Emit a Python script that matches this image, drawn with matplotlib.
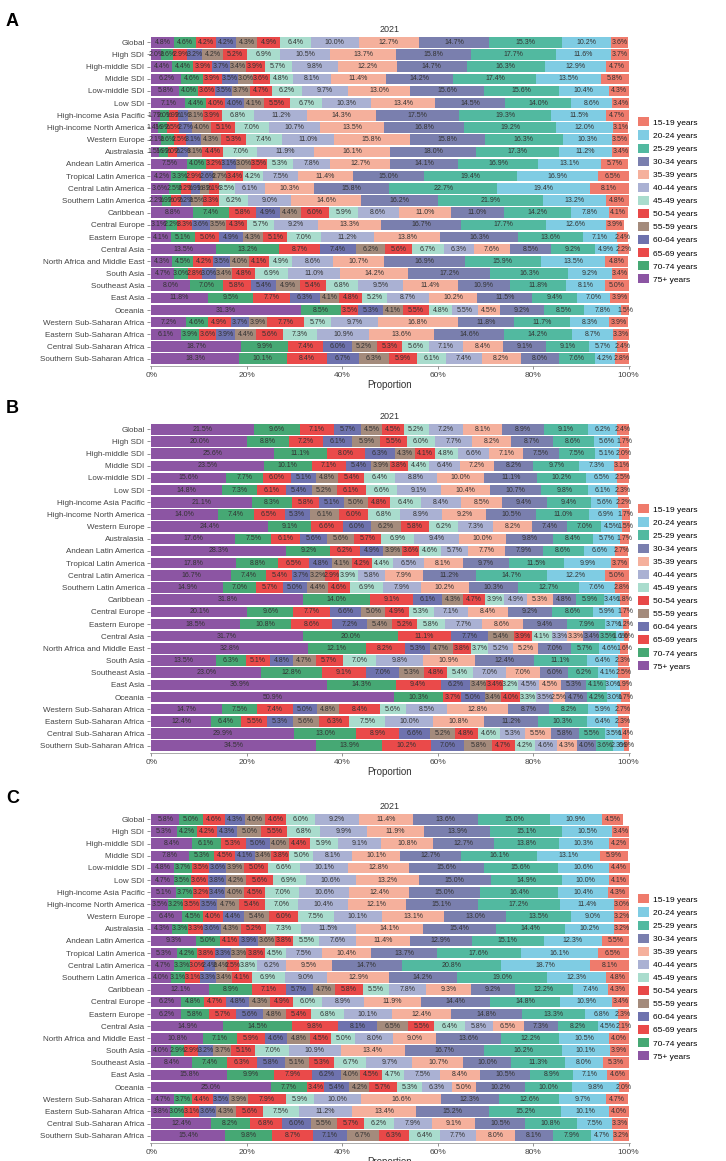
import matplotlib

matplotlib.use("Agg")

import matplotlib.pyplot as plt
from matplotlib.patches import Patch
import numpy as np

plt.rcParams["font.family"] = ["Liberation Sans", "DejaVu Sans"]

regions = [
    "Global", "High SDI", "High-middle SDI", "Middle SDI", "Low-middle SDI", "Low SDI",
    "High-income Asia Pacific", "High-income North America", "Western Europe", "Australasia",
    "Andean Latin America", "Tropical Latin America", "Central Latin America",
    "Southern Latin America", "Caribbean", "Central Europe", "Eastern Europe", "Central Asia",
    "North Africa and Middle East", "South Asia", "Southeast Asia", "East Asia", "Oceania",
    "Western Sub-Saharan Africa", "Eastern Sub-Saharan Africa", "Central Sub-Saharan Africa",
    "Southern Sub-Saharan Africa",
]

# stacking order, left to right
age_groups = [
    "75+ years", "70-74 years", "65-69 years", "60-64 years", "55-59 years", "50-54 years",
    "45-49 years", "40-44 years", "35-39 years", "30-34 years", "25-29 years", "20-24 years",
    "15-19 years",
]

age_colors = [
    "#8C55A3", "#46A874", "#EA4A4A", "#6E72AE", "#A48B7C", "#E84848",
    "#A9DCCD", "#AAB1D3", "#F5B09C", "#7A7FAE", "#52B9A0", "#7FCCE3", "#EF7B6C",
]

# percent, one row per region, columns follow age_groups
panel_a = [
    [4.8, 4.6, 4.2, 4.2, 4.3, 4.9, 6.4, 10.0, 12.7, 14.7, 15.3, 10.2, 3.6],
    [2.0, 2.6, 2.9, 3.2, 4.2, 5.2, 6.9, 10.5, 13.7, 15.8, 17.7, 11.6, 3.7],
    [4.4, 4.4, 3.9, 3.7, 3.4, 3.9, 5.7, 9.8, 12.2, 14.7, 16.3, 12.9, 4.7],
    [6.2, 4.6, 3.9, 3.5, 3.0, 3.6, 4.8, 8.1, 11.4, 14.2, 17.4, 13.5, 5.8],
    [5.8, 4.0, 3.6, 3.5, 3.7, 4.7, 6.2, 9.7, 13.0, 15.6, 15.6, 10.4, 4.3],
    [7.1, 4.4, 4.0, 4.0, 4.1, 5.5, 6.7, 10.3, 13.4, 14.5, 14.0, 8.6, 3.4],
    [1.7, 2.0, 1.9, 2.1, 3.1, 3.9, 6.8, 11.2, 14.3, 17.5, 19.3, 11.5, 4.7],
    [1.4, 1.9, 2.5, 2.7, 4.0, 5.1, 7.0, 10.7, 13.5, 16.8, 19.2, 12.0, 3.1],
    [2.1, 2.6, 2.5, 3.1, 4.3, 5.3, 7.4, 11.0, 15.8, 15.8, 16.3, 10.3, 3.5],
    [1.5, 1.9, 2.0, 2.2, 3.1, 4.4, 7.0, 11.9, 16.1, 18.0, 17.3, 11.2, 3.4],
    [7.5, 4.0, 3.2, 3.1, 3.0, 3.5, 5.3, 7.8, 12.7, 14.1, 16.9, 13.1, 5.7],
    [4.2, 3.3, 2.9, 2.6, 2.7, 3.4, 4.2, 7.5, 11.4, 15.0, 19.4, 16.9, 6.5],
    [3.6, 2.5, 2.2, 1.9, 1.8, 2.1, 3.5, 6.1, 10.3, 15.8, 22.7, 19.4, 8.1],
    [2.2, 1.9, 2.0, 2.2, 2.5, 3.3, 6.2, 9.0, 14.6, 16.2, 21.9, 13.2, 4.8],
    [8.8, 7.4, 5.8, 4.9, 4.4, 6.0, 5.9, 8.6, 11.0, 11.0, 14.2, 7.8, 4.1],
    [3.1, 2.2, 3.3, 3.6, 3.5, 4.3, 5.7, 9.2, 13.3, 16.7, 17.7, 12.6, 3.9],
    [4.1, 5.1, 5.0, 4.9, 4.3, 5.1, 7.0, 11.2, 13.8, 16.3, 13.6, 7.1, 2.4],
    [13.5, 13.2, 8.7, 7.4, 6.2, 5.6, 6.7, 6.3, 7.6, 8.5, 9.2, 4.9, 2.2],
    [4.3, 4.5, 4.2, 3.5, 4.0, 4.1, 4.9, 8.6, 10.7, 16.9, 15.9, 13.5, 4.8],
    [4.7, 3.0, 2.8, 3.0, 3.4, 4.8, 6.9, 11.0, 14.2, 17.2, 16.3, 9.2, 3.4],
    [8.0, 7.0, 5.8, 5.4, 4.9, 5.4, 6.8, 9.5, 11.4, 10.9, 11.8, 8.1, 5.0],
    [11.8, 9.5, 7.7, 6.3, 4.1, 4.8, 5.2, 8.7, 10.2, 11.5, 9.4, 7.0, 3.9],
    [31.3, 8.5, 3.5, 5.3, 4.1, 5.5, 4.8, 5.5, 4.5, 9.2, 8.5, 7.8, 1.5],
    [7.2, 4.6, 4.9, 3.7, 3.9, 7.7, 5.7, 9.7, 16.8, 11.8, 11.7, 8.3, 3.9],
    [6.1, 3.9, 3.6, 3.9, 4.4, 5.6, 7.3, 10.9, 13.6, 14.6, 14.2, 8.7, 3.3],
    [18.7, 9.9, 7.4, 6.0, 5.2, 5.3, 5.6, 7.1, 8.4, 9.1, 9.1, 5.7, 2.4],
    [18.3, 10.1, 8.4, 6.7, 6.3, 5.9, 6.1, 7.4, 8.2, 8.0, 7.6, 4.2, 2.8],
]

panel_b = [
    [21.5, 9.6, 7.1, 5.7, 4.5, 4.5, 5.2, 7.2, 8.1, 8.9, 9.1, 6.2, 2.4],
    [20.0, 8.8, 7.2, 6.1, 5.9, 5.5, 6.0, 7.7, 8.2, 8.7, 8.6, 5.6, 1.7],
    [25.6, 11.1, 8.0, 6.3, 4.3, 4.1, 4.8, 6.6, 7.1, 7.5, 7.5, 5.1, 2.0],
    [23.5, 10.1, 7.1, 5.4, 3.9, 3.8, 4.4, 6.4, 7.2, 8.2, 9.7, 7.3, 3.1],
    [15.6, 7.7, 6.0, 5.1, 4.8, 5.4, 6.4, 8.8, 10.0, 11.1, 10.2, 6.5, 2.5],
    [14.8, 7.3, 6.1, 5.4, 5.2, 6.1, 6.6, 9.1, 10.4, 10.7, 9.8, 6.1, 2.3],
    [21.1, 8.3, 5.8, 5.1, 5.0, 4.8, 6.4, 8.4, 8.5, 9.4, 9.4, 5.6, 2.2],
    [14.0, 7.4, 6.5, 5.3, 6.1, 6.0, 6.8, 8.9, 9.2, 10.5, 11.0, 6.9, 1.7],
    [24.4, 9.1, 6.6, 6.0, 6.2, 5.8, 6.2, 7.3, 8.2, 7.4, 7.0, 4.5, 1.5],
    [17.6, 7.5, 6.1, 5.6, 5.6, 5.7, 6.9, 9.4, 10.0, 9.8, 8.4, 5.7, 1.7],
    [28.3, 9.2, 6.2, 4.9, 3.9, 3.6, 4.6, 5.7, 7.7, 7.9, 8.6, 6.6, 2.7],
    [17.8, 8.8, 6.5, 4.8, 4.1, 4.2, 4.4, 6.5, 8.1, 9.7, 11.5, 9.9, 3.7],
    [16.7, 7.4, 5.4, 3.7, 3.2, 2.9, 3.9, 5.8, 7.9, 11.2, 14.7, 12.2, 5.0],
    [14.9, 7.0, 5.7, 5.0, 4.4, 4.6, 6.9, 7.9, 10.2, 10.3, 12.7, 7.6, 2.8],
    [31.8, 14.0, 9.1, 6.1, 4.3, 4.7, 3.9, 4.9, 5.3, 4.8, 5.9, 3.4, 1.8],
    [20.1, 9.6, 7.7, 6.6, 5.0, 4.9, 5.3, 7.1, 8.4, 9.2, 8.6, 5.9, 1.7],
    [18.5, 10.8, 8.6, 7.2, 5.4, 5.2, 5.8, 7.7, 8.6, 9.4, 7.9, 3.7, 1.2],
    [31.7, 20.0, 11.1, 7.7, 5.4, 3.9, 4.1, 3.3, 3.3, 3.4, 3.5, 1.6, 1.0],
    [32.8, 12.1, 8.2, 5.3, 4.7, 3.8, 3.7, 5.2, 5.2, 7.0, 5.7, 4.6, 1.6],
    [13.5, 6.3, 5.1, 4.8, 4.7, 5.7, 7.0, 9.8, 10.9, 12.4, 11.1, 6.4, 2.3],
    [23.0, 12.8, 9.1, 7.0, 5.3, 4.8, 5.4, 7.0, 7.0, 6.0, 6.2, 4.1, 2.5],
    [36.9, 14.3, 9.4, 6.2, 3.4, 3.4, 3.2, 4.5, 4.5, 5.3, 4.1, 3.0, 1.9],
    [50.9, 10.3, 3.7, 5.0, 3.4, 4.0, 3.3, 3.5, 2.5, 4.7, 4.2, 3.0, 1.7],
    [14.7, 7.5, 7.4, 5.0, 4.8, 8.4, 5.6, 8.5, 12.8, 8.7, 8.2, 5.9, 2.7],
    [12.4, 6.4, 5.5, 5.3, 5.6, 6.3, 7.5, 10.0, 10.8, 11.2, 10.3, 6.4, 2.3],
    [29.9, 13.0, 8.9, 6.6, 5.2, 4.8, 4.6, 5.3, 5.5, 5.8, 5.5, 3.5, 1.4],
    [34.5, 13.9, 10.2, 7.0, 5.8, 4.7, 4.2, 4.6, 4.3, 4.0, 3.6, 2.3, 0.9],
]

panel_c = [
    [5.8, 5.0, 4.6, 4.3, 4.0, 4.6, 6.0, 9.2, 11.4, 13.6, 15.0, 10.9, 4.5],
    [5.3, 4.2, 4.2, 4.3, 5.0, 5.5, 6.8, 9.9, 11.9, 13.9, 15.1, 10.5, 3.4],
    [8.4, 6.1, 5.3, 5.0, 4.0, 4.4, 5.9, 9.1, 10.8, 12.7, 13.8, 10.3, 4.2],
    [7.8, 5.3, 4.5, 4.1, 3.4, 3.8, 5.0, 8.1, 10.1, 12.7, 16.1, 13.1, 5.9],
    [4.8, 3.7, 3.5, 3.6, 3.9, 5.0, 6.6, 10.1, 12.8, 15.6, 15.6, 10.6, 4.4],
    [4.7, 3.5, 3.6, 3.8, 4.2, 5.6, 6.9, 10.6, 13.2, 15.0, 14.9, 10.0, 4.1],
    [5.1, 3.7, 3.2, 3.4, 4.0, 4.5, 7.0, 10.6, 12.4, 15.0, 16.4, 10.4, 4.3],
    [3.5, 3.2, 3.5, 3.5, 4.7, 5.4, 7.0, 10.4, 12.1, 15.1, 17.2, 11.4, 3.0],
    [6.4, 4.5, 4.0, 4.4, 5.4, 6.0, 7.5, 10.1, 13.1, 13.0, 13.5, 9.0, 3.2],
    [4.3, 3.3, 3.3, 3.6, 4.3, 5.2, 7.3, 11.5, 14.1, 15.4, 14.4, 10.2, 3.2],
    [9.3, 5.0, 4.1, 3.9, 3.6, 3.8, 5.5, 7.6, 11.4, 12.9, 15.1, 12.3, 5.5],
    [5.3, 4.2, 3.8, 3.3, 3.3, 3.8, 4.5, 7.5, 10.4, 13.7, 17.6, 16.1, 6.5],
    [4.7, 3.3, 3.0, 2.4, 2.4, 2.5, 3.8, 6.2, 9.5, 14.7, 20.8, 18.7, 8.1],
    [4.0, 3.1, 3.1, 3.3, 3.4, 4.1, 6.9, 9.0, 12.9, 14.2, 19.0, 12.3, 4.8],
    [12.1, 8.9, 7.1, 5.7, 4.7, 5.8, 5.5, 7.8, 9.3, 9.2, 12.2, 7.4, 4.3],
    [6.2, 4.8, 4.7, 4.8, 4.3, 4.9, 6.0, 8.9, 11.9, 14.4, 14.8, 10.9, 3.4],
    [6.2, 5.8, 5.7, 5.6, 4.8, 5.4, 6.8, 10.1, 12.4, 14.8, 13.3, 6.8, 2.3],
    [14.9, 14.5, 9.8, 8.1, 6.5, 5.5, 6.4, 5.8, 6.5, 7.3, 8.2, 4.5, 2.1],
    [10.8, 7.1, 5.9, 4.6, 4.8, 4.5, 5.0, 8.0, 9.0, 13.6, 12.2, 10.5, 4.0],
    [4.0, 2.9, 2.9, 3.2, 3.7, 5.1, 7.0, 10.9, 13.4, 16.7, 16.2, 10.1, 3.9],
    [8.4, 7.4, 6.3, 5.8, 5.1, 5.3, 6.7, 9.7, 10.7, 10.0, 11.3, 8.0, 5.3],
    [15.8, 9.9, 7.9, 6.2, 4.0, 4.5, 4.7, 7.5, 8.4, 10.5, 8.9, 7.1, 4.6],
    [25.0, 7.7, 3.4, 5.4, 4.2, 5.7, 5.3, 6.3, 5.0, 10.2, 10.0, 9.8, 2.0],
    [4.7, 3.7, 4.4, 3.5, 3.9, 7.9, 5.9, 10.0, 16.6, 12.3, 12.6, 9.7, 4.7],
    [3.8, 3.0, 3.1, 3.6, 4.3, 5.6, 7.5, 11.2, 13.4, 15.2, 15.2, 10.1, 4.0],
    [12.4, 8.2, 6.8, 6.0, 5.5, 5.7, 6.2, 7.9, 9.1, 10.5, 10.8, 7.5, 3.3],
    [15.4, 9.8, 8.7, 7.1, 6.7, 6.3, 6.4, 7.7, 8.0, 8.1, 7.9, 4.7, 3.2],
]

panel_letters = ["A", "B", "C"]
panel_year = "2021"


def draw_panel(ax, values):
    vals = np.asarray(values, dtype=float)
    y = np.arange(len(regions))
    left = np.zeros(len(regions))
    for j, (name, color) in enumerate(zip(age_groups, age_colors)):
        w = vals[:, j]
        ax.barh(y, w, left=left, height=0.86, color=color, edgecolor="none", label=name)
        for yi, (l, wi) in enumerate(zip(left, w)):
            ax.text(l + wi / 2, yi, f"{wi:.1f}%", ha="center", va="center",
                    fontsize=5.0, color="#333333")
        left = left + w
    ax.set_ylim(len(regions) - 0.4, -0.6)
    ax.set_xlim(-0.3, 100.3)
    ax.set_yticks(y)
    ax.set_yticklabels(regions, fontsize=5.8, color="#444444")
    ax.set_xticks(np.arange(0, 101, 20))
    ax.set_xticklabels([f"{v}%" for v in range(0, 101, 20)], fontsize=6, color="#444444")
    ax.tick_params(axis="both", length=2, width=0.5, color="#666666", pad=2)
    for side in ["top", "right", "left"]:
        ax.spines[side].set_visible(False)
    ax.spines["bottom"].set_color("#888888")
    ax.spines["bottom"].set_linewidth(0.5)
    ax.set_xlabel("Proportion", fontsize=7, labelpad=1, color="#333333")
    ax.set_title(panel_year, fontsize=6.5, pad=2, color="#333333")


fig = plt.figure(figsize=(7.26, 11.61), dpi=100)
W, H = 726.0, 1161.0
panel_tops = [35, 422, 812]
panel_h = 331
data = [panel_a, panel_b, panel_c]

for letter, top, vals in zip(panel_letters, panel_tops, data):
    ax = fig.add_axes([150 / W, 1 - (top + panel_h) / H, 480 / W, panel_h / H])
    draw_panel(ax, vals)
    fig.text(6 / W, 1 - (top - 22) / H, letter, fontsize=13, fontweight="bold", va="top")
    handles = [Patch(facecolor=c, edgecolor="none", label=n)
               for n, c in zip(age_groups[::-1], age_colors[::-1])]
    ax.legend(handles=handles, loc="center left", bbox_to_anchor=(1.01, 0.5), frameon=False,
              fontsize=6, handlelength=1.3, handleheight=1.3, labelspacing=0.45,
              handletextpad=0.5, borderaxespad=0)

fig.savefig("out.png", dpi=100)
